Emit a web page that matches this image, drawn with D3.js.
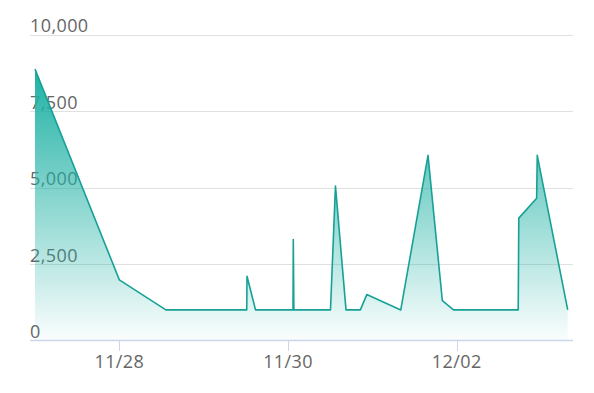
<!DOCTYPE html>
<html>
<head>
<meta charset="utf-8">
<script src="https://cdn.jsdelivr.net/npm/d3@7"></script>
<style>
  body { margin: 0; background: #fff; }
  svg text { font-family: "Open Sans", sans-serif; fill: #666; letter-spacing: 0.4px; }
</style>
</head>
<body>
<div id="chart"><svg width="594" height="393"></svg></div>
<script>
// readings, hand-picked off the picture
var times = [
  "2023-11-27T00:00", "2023-11-28T00:00", "2023-11-28T13:15", "2023-11-29T12:15",
  "2023-11-29T12:20", "2023-11-29T14:45", "2023-11-30T01:25", "2023-11-30T01:30",
  "2023-11-30T01:40", "2023-11-30T12:05", "2023-11-30T13:30", "2023-11-30T16:30",
  "2023-11-30T20:35", "2023-11-30T22:25", "2023-12-01T08:05", "2023-12-01T15:50",
  "2023-12-01T19:55", "2023-12-01T23:05", "2023-12-02T17:30", "2023-12-02T17:40",
  "2023-12-02T22:45", "2023-12-02T22:55", "2023-12-03T07:35"
]
var values = [
  8870, 1980, 1000, 1000,
  2100, 1000, 1000, 3300,
  1000, 1000, 5050, 1000,
  1000, 1500, 1000, 6050,
  1300, 1000, 1000, 4000,
  4650, 6050, 1000
]
var yTicks = [0, 2500, 5000, 7500, 10000]
var xTicks = ["2023-11-28T00:00", "2023-11-30T00:00", "2023-12-02T00:00"]

var parse = d3.timeParse("%Y-%m-%dT%H:%M")
var data = times.map((t, i) => ({date: parse(t), value: values[i]}))

var svg = d3.select('#chart').select('svg')
var plotLeft = 30, plotRight = 573

var x = d3.scaleTime()
    .domain(d3.extent(data, d => d.date))
    .range([35, 567.7])

var y = d3.scaleLinear()
    .domain([0, 10000])
    .range([340.5, 34.5])

// grid + y labels
var grid = svg.append('g')
grid.selectAll('line').data(yTicks.slice(1)).enter()
    .append('line')
    .attr('x1', plotLeft).attr('x2', plotRight)
    .attr('y1', d => Math.round(y(d)) + 0.5)
    .attr('y2', d => Math.round(y(d)) + 0.5)
    .attr('stroke', '#e0e0e0')
    .attr('stroke-width', 1)

svg.append('g').selectAll('text').data(yTicks).enter()
    .append('text')
    .attr('x', plotLeft)
    .attr('y', d => y(d) - 2.5)
    .attr('font-size', 18)
    .text(d => d3.format(",")(d))

// gradient area
var grad = svg.append('defs').append('linearGradient')
    .attr('id', 'areaFill')
    .attr('gradientUnits', 'userSpaceOnUse')
    .attr('x1', 0).attr('x2', 0)
    .attr('y1', y(d3.max(values))).attr('y2', y(0))
grad.append('stop').attr('offset', 0).attr('stop-color', '#1eb1a4').attr('stop-opacity', 1)
grad.append('stop').attr('offset', 1).attr('stop-color', '#1eb1a4').attr('stop-opacity', 0.02)

var area = d3.area()
    .x(d => x(d.date))
    .y0(y(0))
    .y1(d => y(d.value))

var line = d3.line()
    .x(d => x(d.date))
    .y(d => y(d.value))

svg.append('path')
    .datum(data)
    .attr('d', area)
    .attr('fill', 'url(#areaFill)')

svg.append('path')
    .datum(data)
    .attr('d', line)
    .attr('fill', 'none')
    .attr('stroke', '#17a195')
    .attr('stroke-width', 1.6)
    .attr('stroke-linejoin', 'round')

// x axis
var xAxis = svg.append('g')
xAxis.append('line')
    .attr('x1', plotLeft).attr('x2', plotRight)
    .attr('y1', 340.5).attr('y2', 340.5)
    .attr('stroke', '#ccd6eb')
    .attr('stroke-width', 1.5)

var xt = xTicks.map(parse)
xAxis.selectAll('.tick').data(xt).enter()
    .append('line')
    .attr('x1', d => Math.round(x(d)) + 0.5)
    .attr('x2', d => Math.round(x(d)) + 0.5)
    .attr('y1', 340.5).attr('y2', 351)
    .attr('stroke', '#ccd6eb')

xAxis.selectAll('text').data(xt).enter()
    .append('text')
    .attr('x', d => x(d))
    .attr('y', 368)
    .attr('text-anchor', 'middle')
    .attr('font-size', 18)
    .text(d3.timeFormat("%m/%d"))
</script>
</body>
</html>
